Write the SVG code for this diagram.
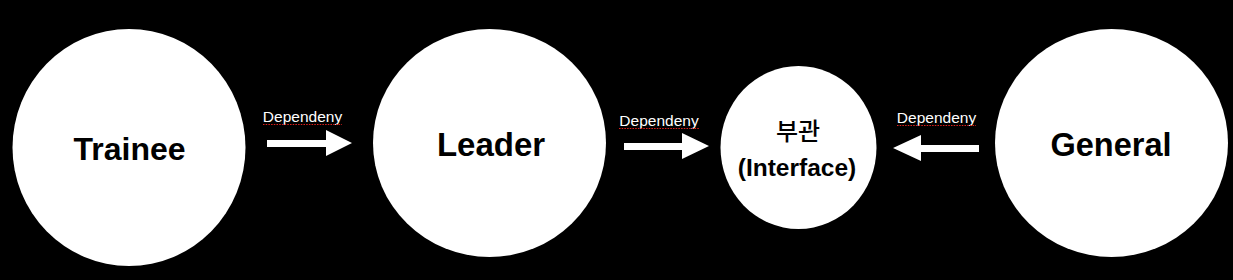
<svg xmlns="http://www.w3.org/2000/svg" width="1233" height="280" viewBox="0 0 1233 280">
<style>
.node{fill:#fff}
.big{font-family:"Liberation Sans","Noto Sans CJK KR",sans-serif;font-weight:bold;fill:#000;text-anchor:middle}
.lbl{font-family:"Liberation Sans",sans-serif;font-size:15.5px;fill:#fff;text-anchor:middle}
.arrow{fill:#fff}
.spell{stroke:#e0201c;stroke-width:1.2;stroke-dasharray:1.5 1.2}
</style>
<rect width="1233" height="280" fill="#000"/>
<g id="trainee">
<ellipse class="node" cx="129" cy="147.5" rx="116.5" ry="118.5"/>
<text class="big" x="129.5" y="160" font-size="32">Trainee</text>
</g>
<g id="leader">
<ellipse class="node" cx="489.5" cy="143" rx="116.5" ry="114"/>
<text class="big" x="491" y="156" font-size="33">Leader</text>
</g>
<g id="interface">
<ellipse class="node" cx="798.5" cy="147.5" rx="78" ry="81.5"/>
<text class="big" x="798" y="140" font-size="24" font-weight="500" style="font-weight:500">부관</text>
<text class="big" x="797" y="176" font-size="24.5">(Interface)</text>
</g>
<g id="general">
<ellipse class="node" cx="1111.5" cy="143" rx="116.5" ry="114"/>
<text class="big" x="1111" y="156" font-size="32.5">General</text>
</g>
<g id="connectors">
<polygon class="arrow" points="267,140 326,140 326,130 352,143 326,156 326,147 267,147"/>
<text class="lbl" x="302.5" y="122">Dependeny</text>
<line class="spell" x1="263" y1="124.5" x2="342" y2="124.5"/>
<polygon class="arrow" points="624,143 682,143 682,133 709,146 682,159 682,150 624,150"/>
<text class="lbl" x="659" y="126">Dependeny</text>
<line class="spell" x1="619" y1="128.5" x2="699" y2="128.5"/>
<polygon class="arrow" points="979,145 921,145 921,135 893,148 921,161 921,152 979,152"/>
<text class="lbl" x="936.5" y="123">Dependeny</text>
<line class="spell" x1="897" y1="125.5" x2="976" y2="125.5"/>
</g>
</svg>
